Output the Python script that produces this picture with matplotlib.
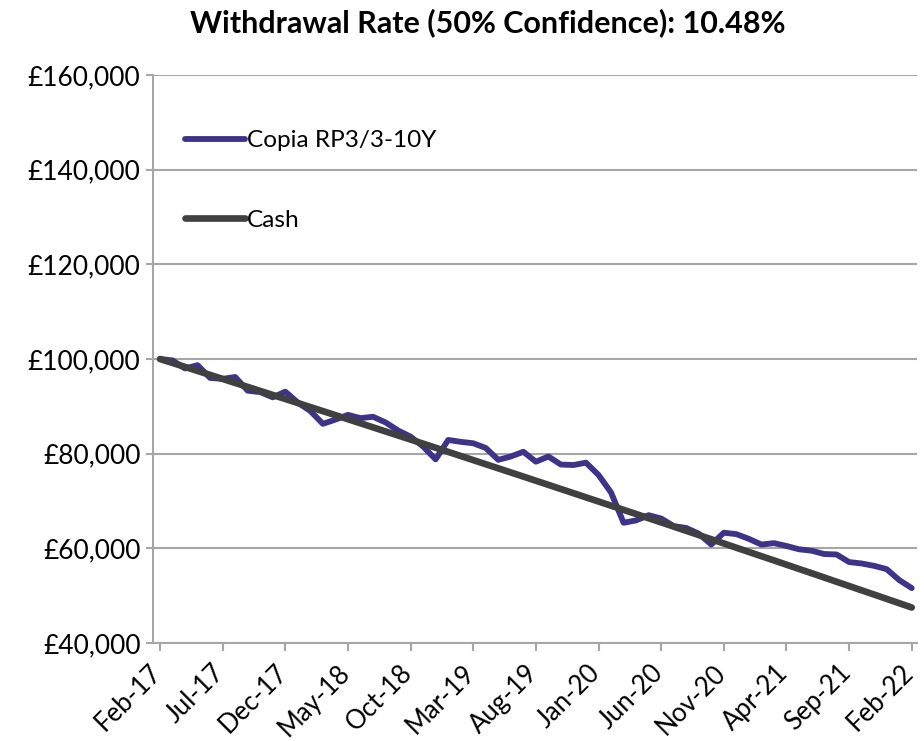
import matplotlib
matplotlib.use("Agg")
import matplotlib.pyplot as plt
from matplotlib.ticker import FuncFormatter, MultipleLocator
from matplotlib.transforms import ScaledTranslation

# ---- data ----
months = ["Feb-17", "Jul-17", "Dec-17", "May-18", "Oct-18", "Mar-19", "Aug-19",
          "Jan-20", "Jun-20", "Nov-20", "Apr-21", "Sep-21", "Feb-22"]
tick_positions = [0, 5, 10, 15, 20, 25, 30, 35, 40, 45, 50, 55, 60]

copia = [100000, 99700, 98000, 98700, 96000, 95800, 96200, 93300, 93000, 91900,
         93100, 90800, 89000, 86300, 87200, 88200, 87500, 87800, 86600, 84900,
         83600, 81500, 78800, 82900, 82500, 82200, 81200, 78700, 79400, 80400,
         78300, 79400, 77700, 77600, 78100, 75500, 71800, 65400, 65900, 67000,
         66300, 64700, 64300, 63100, 60800, 63300, 63000, 62000, 60800, 61100,
         60500, 59800, 59500, 58800, 58700, 57100, 56800, 56300, 55600, 53300,
         51600]

cash = [100000, 99160, 98320, 97480, 96630, 95790, 94940, 94100, 93250, 92400,
        91550, 90700, 89840, 88990, 88130, 87280, 86420, 85560, 84700, 83840,
        82980, 82110, 81250, 80380, 79510, 78640, 77770, 76900, 76030, 75160,
        74280, 73410, 72530, 71650, 70770, 69890, 69010, 68130, 67250, 66360,
        65480, 64590, 63700, 62810, 61920, 61030, 60130, 59240, 58340, 57450,
        56550, 55650, 54750, 53850, 52940, 52040, 51130, 50230, 49320, 48410,
        47500]

title = "Withdrawal Rate (50% Confidence): 10.48%"
series_names = ["Copia RP3/3-10Y", "Cash"]
colors = ["#3D3389", "#404040"]

plt.rcParams['font.family'] = ['Lato', 'DejaVu Sans']

W, H = 924, 741
fig = plt.figure(figsize=(W / 100, H / 100), dpi=100)
ax = fig.add_axes([153 / W, (H - 643) / H, (917 - 153) / W, (643 - 75) / H])

x = list(range(len(copia)))
ax.plot(x, copia, color=colors[0], lw=4.2, solid_capstyle='round',
        solid_joinstyle='round', label=series_names[0], zorder=3)
ax.plot(x, cash, color=colors[1], lw=4.8, solid_capstyle='round',
        solid_joinstyle='round', label=series_names[1], zorder=4)

ax.set_ylim(40000, 160000)
ax.set_xlim(-0.56, 60.42)
ax.yaxis.set_major_locator(MultipleLocator(20000))
ax.yaxis.set_major_formatter(FuncFormatter(lambda v, p: "£{:,.0f}".format(v)))
ax.grid(axis='y', color='#A6A6A6', lw=1.5, zorder=0)
ax.set_axisbelow(True)

ax.set_xticks(tick_positions)
ax.set_xticklabels([])
shift = ScaledTranslation(-11 / 100, -17 / 100, fig.dpi_scale_trans)
for pos, lab in zip(tick_positions, months):
    ax.text(pos, 0, lab, transform=ax.get_xaxis_transform() + shift,
            rotation=45, ha='right', va='top', rotation_mode='anchor',
            fontsize=18.5, color='black', clip_on=False)

for s in ['top', 'right']:
    ax.spines[s].set_visible(False)
for s in ['left', 'bottom']:
    ax.spines[s].set_color('#A6A6A6')
    ax.spines[s].set_linewidth(1.5)

ax.tick_params(axis='y', length=5, width=1.5, color='#A6A6A6', labelsize=19,
               labelcolor='black', pad=4)
ax.tick_params(axis='x', length=6, width=1.5, color='#A6A6A6')

leg = ax.legend(loc='upper left', bbox_to_anchor=(0.042, 0.903), frameon=False,
                fontsize=17.6, handlelength=2.45, handletextpad=0.08,
                labelspacing=2.4, borderaxespad=0, borderpad=0)

fig.text(0.5276, 0.970, title, ha='center', va='center', fontsize=22,
         fontweight='bold')

fig.savefig("out.png", dpi=100)
